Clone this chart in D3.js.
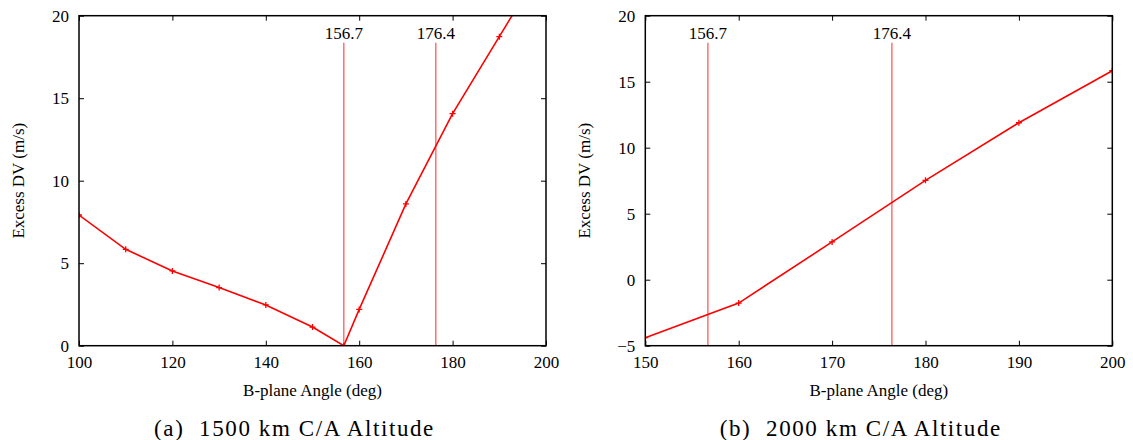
<!DOCTYPE html>
<html><head><meta charset="utf-8">
<script src="https://cdn.jsdelivr.net/npm/d3@7"></script>
<style>body{margin:0;background:#fff}svg{display:block}</style>
</head><body>
<svg id="c" width="1133" height="440"></svg>
<script>
// Panel (a): 1500 km C/A altitude
const anglesA = [100, 110, 120, 130, 140, 150, 156.7, 160, 170, 180, 190, 200];
const dvA     = [7.92, 5.84, 4.53, 3.52, 2.47, 1.13, 0, 2.2, 8.59, 14.06, 18.73, 23.4];
const xTicksA = [100, 120, 140, 160, 180, 200];
const yTicksA = [0, 5, 10, 15, 20];
// Panel (b): 2000 km C/A altitude
const anglesB = [150, 160, 170, 180, 190, 200];
const dvB     = [-4.39, -1.77, 2.86, 7.53, 11.89, 15.83];
const xTicksB = [150, 160, 170, 180, 190, 200];
const yTicksB = [-5, 0, 5, 10, 15, 20];
// Reference angles
const refAngles = [156.7, 176.4];
const captions = ["(a)  1500 km C/A Altitude", "(b)  2000 km C/A Altitude"];
const xLabel = "B-plane Angle (deg)";
const yLabel = "Excess DV (m/s)";

const svg = d3.select("#c");
const serif = "Liberation Serif, Times New Roman, serif";
const FS = 17;

function panel(left, xs, ys, xDom, yDom, xT, yT, caption, id) {
  const W = 467, top = 15.7, H = 330;
  const g = svg.append("g").attr("transform", `translate(${left},${top})`);
  const x = d3.scaleLinear().domain(xDom).range([0, W]);
  const y = d3.scaleLinear().domain(yDom).range([H, 0]);
  g.append("clipPath").attr("id", id).append("rect").attr("width", W).attr("height", H);

  // reference lines
  refAngles.forEach(a => {
    g.append("line").attr("x1", x(a)).attr("x2", x(a)).attr("y1", 27).attr("y2", H)
      .attr("stroke", "#ff7070").attr("stroke-width", 1.5);
    g.append("text").attr("x", x(a)).attr("y", 23.5).attr("text-anchor", "middle")
      .style("font-family", serif).attr("font-size", FS).text(a.toFixed(1));
  });

  const pts = xs.map((v, i) => [v, ys[i]]);
  const cg = g.append("g").attr("clip-path", `url(#${id})`);
  cg.append("path").datum(pts)
    .attr("d", d3.line().x(d => x(d[0])).y(d => y(d[1])))
    .attr("fill", "none").attr("stroke", "#ff0000").attr("stroke-width", 1.6);
  cg.selectAll(".m").data(pts).join("path")
    .attr("transform", d => `translate(${x(d[0])},${y(d[1])})`)
    .attr("d", "M-3,0H3M0,-3V3")
    .attr("stroke", "#ff0000").attr("stroke-width", 1.3);

  // axes with inward ticks
  const style = s => {
    s.select(".domain").remove();
    s.attr("font-family", null).attr("font-size", null);
    s.selectAll("line").attr("stroke", "#000").attr("stroke-width", 1);
    s.selectAll("text").style("font-family", serif).attr("font-size", FS).attr("fill", "#000");
  };
  g.append("g").attr("transform", `translate(0,${H})`)
    .call(d3.axisBottom(x).tickValues(xT).tickSize(-5).tickPadding(10).tickFormat(d3.format("d")))
    .call(style);
  g.append("g")
    .call(d3.axisTop(x).tickValues(xT).tickSize(-5).tickFormat(""))
    .call(style);
  g.append("g")
    .call(d3.axisLeft(y).tickValues(yT).tickSize(-5).tickPadding(10).tickFormat(d3.format("d")))
    .call(style);
  g.append("g").attr("transform", `translate(${W},0)`)
    .call(d3.axisRight(y).tickValues(yT).tickSize(-5).tickFormat(""))
    .call(style);
  g.append("rect").attr("width", W).attr("height", H).attr("fill", "none")
    .attr("stroke", "#000").attr("stroke-width", 1.5);

  g.append("text").attr("x", W / 2).attr("y", H + 50).attr("text-anchor", "middle")
    .style("font-family", serif).attr("font-size", FS).text(xLabel);
  g.append("text").attr("transform", `translate(${-55},${H / 2}) rotate(-90)`)
    .attr("text-anchor", "middle").style("font-family", serif).attr("font-size", FS).text(yLabel);
  g.append("text").attr("x", W / 2 - 18).attr("y", H + 90).attr("text-anchor", "middle")
    .style("font-family", serif).attr("font-size", 23).attr("letter-spacing", 1.6)
    .style("white-space", "pre").text(caption);
}

panel(79, anglesA, dvA, [100, 200], [0, 20], xTicksA, yTicksA, captions[0], "clipA");
panel(645.3, anglesB, dvB, [150, 200], [-5, 20], xTicksB, yTicksB, captions[1], "clipB");
</script>
</body></html>
